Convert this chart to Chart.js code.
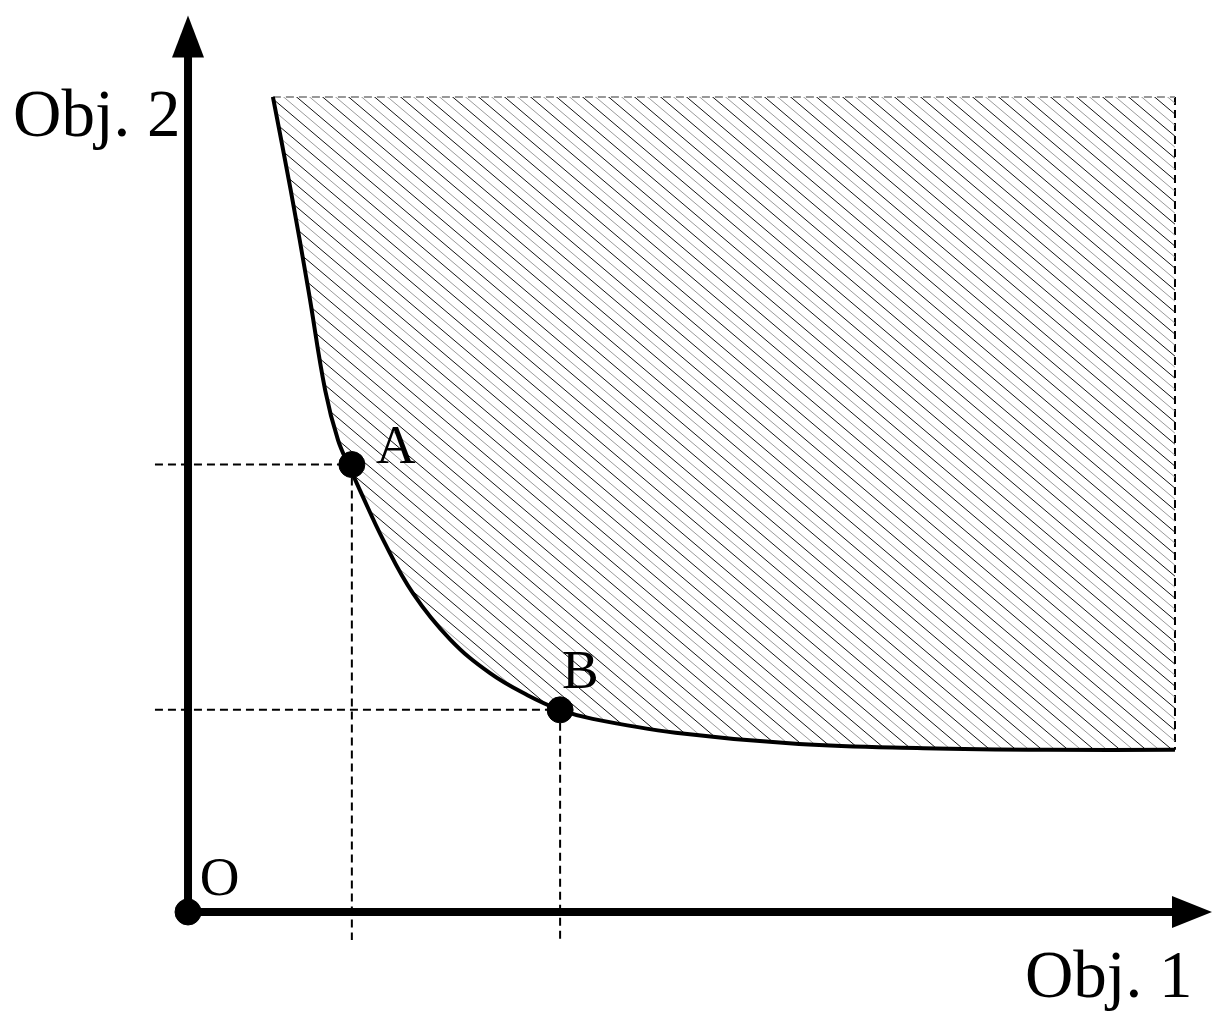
<!DOCTYPE html>
<html>
<head>
<meta charset="utf-8">
<script src="https://cdn.jsdelivr.net/npm/chart.js@4/dist/chart.umd.min.js"></script>
<style>
  html, body { margin: 0; padding: 0; background: #fff; }
  #wrap { width: 1219px; height: 1023px; }
</style>
</head>
<body>
<div id="wrap"><canvas id="chart" width="1219" height="1023"></canvas></div>
<script>
// Pareto front (Obj. 1 -> x, Obj. 2 -> y)
const curveX = [0.86, 1.04, 1.22, 1.39, 1.52, 1.64, 1.74, 1.98, 2.28, 2.66, 3.06, 3.44, 3.77, 4.10, 4.94, 6.19, 7.45, 8.70, 10.0];
const curveY = [10.0, 8.86, 7.63, 6.40, 5.79, 5.45, 5.18, 4.56, 3.91, 3.34, 2.93, 2.66, 2.48, 2.37, 2.20, 2.06, 2.01, 1.99, 1.99];
const regionTop = 10.0;
const regionRight = 10.0;

// marked solutions
const pointNames = ['A', 'B'];
const pointX = [1.66, 3.77];
const pointY = [5.49, 2.48];

// axis extents
const axisMinX = -1.905, axisMaxX = 10.446;
const axisMinY = -1.362, axisMaxY = 11.19;
const xArrowTip = 10.375, yArrowTip = 11.0;
const guideStartX = -0.335, guideStartY = -0.345;

const textLabels = [
    { text: 'Obj. 2', x: -1.773, y: 9.52, size: 67 },
    { text: 'Obj. 1', x: 8.48, y: -1.043, size: 67 },
    { text: 'O', x: 0.12, y: 0.21, size: 55 },
    { text: 'A', x: 1.905, y: 5.51, size: 55 },
    { text: 'B', x: 3.79, y: 2.75, size: 55 }
];

function makeHatch() {
    const step = 13;
    const c = document.createElement('canvas');
    c.width = 2 * step;
    c.height = 22;
    const g = c.getContext('2d');
    g.lineWidth = 1;
    for (let k = -6; k <= 6; k++) {
        const off = k * step;
        g.strokeStyle = (k % 2 === 0) ? '#111' : '#9a9a9a';
        g.beginPath();
        g.moveTo(off - c.width, -c.height);
        g.lineTo(off + 2 * c.width, 2 * c.height);
        g.stroke();
    }
    return g.createPattern(c, 'repeat');
}

const toPts = (xs, ys) => xs.map((x, i) => ({ x, y: ys[i] }));

const dashed = (data, color, width) => ({
    data,
    borderColor: color,
    borderWidth: width,
    borderDash: [8, 5],
    pointRadius: 0,
    tension: 0,
    fill: false
});

const guides = [];
pointNames.forEach((n, i) => {
    guides.push(dashed([{ x: guideStartX, y: pointY[i] }, { x: pointX[i], y: pointY[i] }], '#000', 2));
    guides.push(dashed([{ x: pointX[i], y: pointY[i] }, { x: pointX[i], y: guideStartY }], '#000', 2));
});

// arrowheads at the axis ends + text labels
const decorations = {
    id: 'decorations',
    afterDatasetsDraw(chart) {
        const { ctx, scales: { x, y } } = chart;
        const ox = x.getPixelForValue(0), oy = y.getPixelForValue(0);
        const xt = x.getPixelForValue(xArrowTip), yt = y.getPixelForValue(yArrowTip);
        ctx.save();
        ctx.fillStyle = '#000';
        ctx.beginPath();
        ctx.moveTo(ox, yt);
        ctx.lineTo(ox - 16, yt + 42);
        ctx.lineTo(ox + 16, yt + 42);
        ctx.closePath();
        ctx.fill();
        ctx.beginPath();
        ctx.moveTo(xt, oy);
        ctx.lineTo(xt - 40, oy - 16);
        ctx.lineTo(xt - 40, oy + 16);
        ctx.closePath();
        ctx.fill();

        ctx.textAlign = 'left';
        ctx.textBaseline = 'alphabetic';
        textLabels.forEach(l => {
            ctx.font = `${l.size}px "Liberation Serif", "Times New Roman", serif`;
            ctx.fillText(l.text, x.getPixelForValue(l.x), y.getPixelForValue(l.y));
        });
        ctx.restore();
    }
};

const datasets = [
    // dots (drawn on top)
    {
        type: 'scatter',
        data: [{ x: 0, y: 0 }, ...toPts(pointX, pointY)],
        backgroundColor: '#000',
        borderColor: '#000',
        pointRadius: 13,
        pointHoverRadius: 13
    },
    // axes
    { data: [{ x: 0, y: 0 }, { x: xArrowTip - 0.38, y: 0 }], borderColor: '#000', borderWidth: 8, pointRadius: 0, tension: 0, fill: false },
    { data: [{ x: 0, y: 0 }, { x: 0, y: yArrowTip - 0.5 }], borderColor: '#000', borderWidth: 8, pointRadius: 0, tension: 0, fill: false },
    // pareto curve with hatched dominated region
    {
        data: toPts(curveX, curveY),
        borderColor: '#000',
        borderWidth: 4,
        tension: 0.4,
        pointRadius: 0,
        backgroundColor: makeHatch(),
        fill: '+1'
    },
    // top edge of the region
    dashed(curveX.map(x => ({ x, y: regionTop })), '#999', 2),
    // right edge of the region
    dashed([{ x: regionRight, y: regionTop }, { x: regionRight, y: curveY[curveY.length - 1] }], '#000', 2),
    ...guides
];

new Chart(document.getElementById('chart'), {
    type: 'line',
    data: { datasets },
    options: {
        responsive: false,
        animation: false,
        layout: { padding: 0, autoPadding: false },
        parsing: false,
        clip: false,
        plugins: {
            legend: { display: false },
            tooltip: { enabled: false }
        },
        scales: {
            x: { type: 'linear', min: axisMinX, max: axisMaxX, display: false },
            y: { type: 'linear', min: axisMinY, max: axisMaxY, display: false }
        }
    },
    plugins: [decorations]
});
</script>
</body>
</html>
